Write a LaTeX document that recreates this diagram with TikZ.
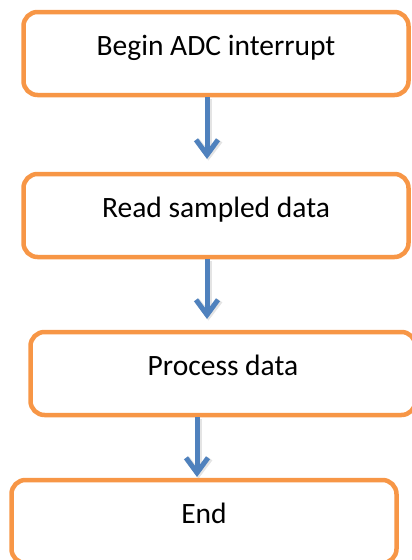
\documentclass[tikz,border=0pt]{standalone}
\usepackage{fontspec}
\setmainfont{Carlito}
\usetikzlibrary{arrows.meta}
\definecolor{boxorange}{HTML}{F79646}
\definecolor{flowblue}{HTML}{4F81BD}
\tikzset{
  stepbox/.style={draw=boxorange, line width=4.5pt, rounded corners=14pt,
    fill=white, inner xsep=0pt, inner ysep=0pt,
    text height=43pt, text depth=40pt, minimum width=385pt,
    font=\fontsize{29.5}{34}\selectfont, anchor=base},
  flow/.style={draw=flowblue, line width=5pt,
    -{Straight Barb[length=15pt,width=22pt,line width=5pt]}},
  flowshade/.style={draw=black!35, opacity=0.3, line width=6pt,
    -{Straight Barb[length=15pt,width=23pt,line width=6pt]}}
}
\begin{document}
\begin{tikzpicture}[x=1pt,y=-1pt]
  \useasboundingbox (0,0) rectangle (412,560);
  \clip (0,0) rectangle (412,560);
  % the four process steps
  \node[stepbox] (b1) at (216,55) {Begin ADC interrupt};
  \node[stepbox] (b2) at (216,217) {Read sampled data};
  \node[stepbox] (b3) at (223,375) {Process data};
  \node[stepbox] (b4) at (204,523) {End};
  % flow arrows with a soft drop shadow
  \coordinate (t1) at (207,159);
  \coordinate (t2) at (207,319);
  \coordinate (t3) at (197,477);
  \draw[flowshade] ([xshift=1.5pt,yshift=-1.5pt]b1.south -| t1) -- ([xshift=1.5pt,yshift=-1.5pt]t1);
  \draw[flowshade] ([xshift=1.5pt,yshift=-1.5pt]b2.south -| t2) -- ([xshift=1.5pt,yshift=-1.5pt]t2);
  \draw[flowshade] ([xshift=1.5pt,yshift=-1.5pt]b3.south -| t3) -- ([xshift=1.5pt,yshift=-1.5pt]t3);
  \draw[flow] (b1.south -| t1) -- (t1);
  \draw[flow] (b2.south -| t2) -- (t2);
  \draw[flow] (b3.south -| t3) -- (t3);
\end{tikzpicture}
\end{document}
